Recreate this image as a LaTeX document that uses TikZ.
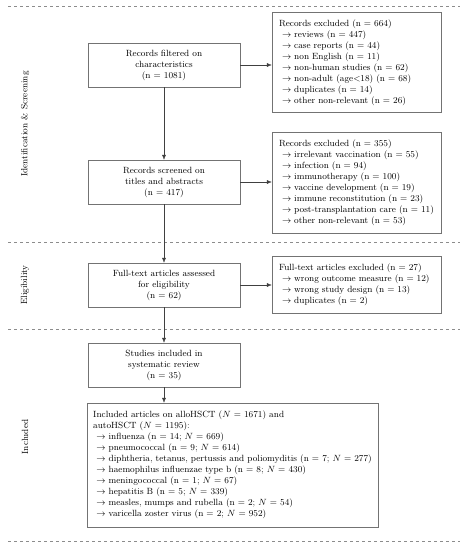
\documentclass[tikz,border=0pt]{standalone}
\usepackage{amsmath, amssymb}
\usetikzlibrary{arrows.meta}

\tikzset{
  stage/.style={draw=black!55, font=\small, align=center, minimum width=152pt, minimum height=44pt, inner sep=2pt},
  excl/.style={draw=black!55, font=\small, align=left, text width=155pt, inner sep=7pt},
  flow/.style={draw=black!75, -{Latex[length=5pt,width=4pt]}},
  phase/.style={font=\small, rotate=90}
}

\begin{document}
\begin{tikzpicture}[x=1pt, y=-1pt]
\useasboundingbox (0,0) rectangle (465,550);
%\draw [lightgray](0,0) grid (465,550);

% phase separators
\foreach \yy in {6, 242, 329, 541}
  \draw [black!45, dashed] (8,\yy) -- (460,\yy);

\node [phase] (idscr) at (25,124){Identification \& Screening};
\node [phase] (elig) at (25,285){Eligibility};
\node [phase] (inc) at (25,437){Included};

% main column
\node [stage] (filter) at (164,65){Records filtered on\\ characteristics\\ (n = 1081)};
\node [stage] (screen) at (164,182){Records screened on\\ titles and abstracts\\ (n = 417)};
\node [stage] (full) at (164,285){Full-text articles assessed\\ for eligibility\\ (n = 62)};
\node [stage] (incl) at (164,365){Studies included in\\ systematic review\\ (n = 35)};
\node [draw=black!55, font=\small, align=left, inner sep=2pt, minimum width=291pt, minimum height=124pt] (arts) at (232.5,465){Included articles on alloHSCT ($N$ = 1671) and\\ autoHSCT ($N$ = 1195):\\
~$\rightarrow$ influenza (n = 14; $N$ = 669)\\
~$\rightarrow$ pneumococcal (n = 9; $N$ = 614)\\
~$\rightarrow$ diphtheria, tetanus, pertussis and poliomyditis (n = 7; $N$ = 277)\\
~$\rightarrow$ haemophilus influenzae type b (n = 8; $N$ = 430)\\
~$\rightarrow$ meningococcal (n = 1; $N$ = 67)\\
~$\rightarrow$ hepatitis B (n = 5; $N$ = 339)\\
~$\rightarrow$ measles, mumps and rubella (n = 2; $N$ = 54)\\
~$\rightarrow$ varicella zoster virus (n = 2; $N$ = 952)};

% exclusion boxes
\node [excl, minimum height=97pt] (ex1) at (356.5,62.5){Records excluded (n = 664)\\
~$\rightarrow$ reviews (n = 447)\\
~$\rightarrow$ case reports (n = 44)\\
~$\rightarrow$ non English (n = 11)\\
~$\rightarrow$ non-human studies (n = 62)\\
~$\rightarrow$ non-adult (age$<$18) (n = 68)\\
~$\rightarrow$ duplicates (n = 14)\\
~$\rightarrow$ other non-relevant (n = 26)};
\node [excl, minimum height=101pt] (ex2) at (356.5,182.5){Records excluded (n = 355)\\
~$\rightarrow$ irrelevant vaccination (n = 55)\\
~$\rightarrow$ infection (n = 94)\\
~$\rightarrow$ immunotherapy (n = 100)\\
~$\rightarrow$ vaccine development (n = 19)\\
~$\rightarrow$ immune reconstitution (n = 23)\\
~$\rightarrow$ post-transplantation care (n = 11)\\
~$\rightarrow$ other non-relevant (n = 53)};
\node [excl, minimum height=57pt] (ex3) at (356.5,284.5){Full-text articles excluded (n = 27)\\
~$\rightarrow$ wrong outcome measure (n = 12)\\
~$\rightarrow$ wrong study design (n = 13)\\
~$\rightarrow$ duplicates (n = 2)};

% connectors
\draw [flow] (filter) -- (screen);
\draw [flow] (screen) -- (full);
\draw [flow] (full) -- (incl);
\draw [flow] (incl.south) -- (incl.south |- arts.north);
\draw [flow] (filter.east) -- (filter.east -| ex1.west);
\draw [flow] (screen.east) -- (screen.east -| ex2.west);
\draw [flow] (full.east) -- (full.east -| ex3.west);
\end{tikzpicture}
\end{document}
